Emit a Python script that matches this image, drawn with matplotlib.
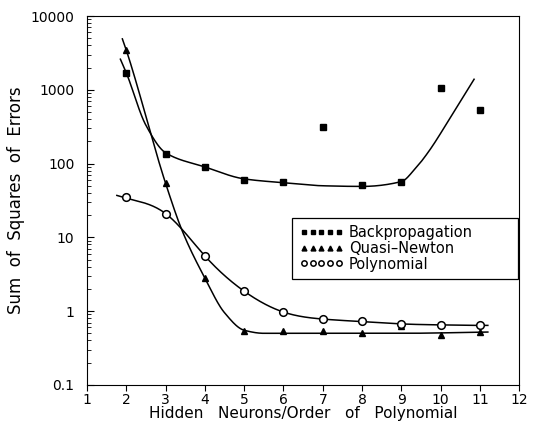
import numpy as np
import matplotlib.pyplot as plt
from matplotlib.ticker import LogLocator, NullFormatter

# data
hidden = [2, 3, 4, 5, 6, 7, 8, 9, 10, 11]
backprop = [1700, 134, 90, 60, 56, 310, 51, 56, 1050, 530]
quasi_newton = [3450, 54, 2.8, 0.53, 0.53, 0.53, 0.5, 0.62, 0.48, 0.52]
polynomial = [35, 21, 5.6, 1.86, 0.97, 0.78, 0.73, 0.66, 0.65, 0.64]

# fitted trend curves (control points)
bp_fit_x = [1.85, 2, 2.5, 3, 4, 5, 6, 7, 8, 9, 9.35, 9.68, 10.27, 10.85]
bp_fit_y = [2600, 1700, 330, 140, 90, 62, 55, 50, 49, 57, 85, 142, 440, 1390]
qn_fit_x = [1.9, 2, 3, 3.43, 4, 4.5, 5, 5.5, 7, 9, 11.2]
qn_fit_y = [4900, 3450, 54, 12, 2.8, 0.95, 0.55, 0.5, 0.5, 0.5, 0.52]
pn_fit_x = [1.76, 2, 3, 4, 5, 6, 7, 8, 9, 10, 11, 11.2]
pn_fit_y = [37, 34, 21, 5.6, 1.86, 0.97, 0.78, 0.72, 0.67, 0.65, 0.64, 0.64]


def hermite(x, y, m, xs):
    h = np.diff(x)
    i = np.clip(np.searchsorted(x, xs) - 1, 0, len(x) - 2)
    t = (xs - x[i]) / h[i]
    h00 = 2 * t**3 - 3 * t**2 + 1
    h10 = t**3 - 2 * t**2 + t
    h01 = -2 * t**3 + 3 * t**2
    h11 = t**3 - t**2
    return h00 * y[i] + h10 * h[i] * m[i] + h01 * y[i + 1] + h11 * h[i] * m[i + 1]


def pchip(x, y, xs):
    x = np.asarray(x, float)
    y = np.asarray(y, float)
    h = np.diff(x)
    d = np.diff(y) / h
    m = np.zeros_like(y)
    m[0], m[-1] = d[0], d[-1]
    for k in range(1, len(x) - 1):
        if d[k - 1] * d[k] > 0:
            w1 = 2 * h[k] + h[k - 1]
            w2 = h[k] + 2 * h[k - 1]
            m[k] = (w1 + w2) / (w1 / d[k - 1] + w2 / d[k])
    return hermite(x, y, m, xs)


def natural(x, y, xs):
    x = np.asarray(x, float)
    y = np.asarray(y, float)
    n = len(x)
    h = np.diff(x)
    A = np.zeros((n, n))
    r = np.zeros(n)
    A[0, 0] = A[-1, -1] = 1
    for k in range(1, n - 1):
        A[k, k - 1] = h[k - 1]
        A[k, k] = 2 * (h[k - 1] + h[k])
        A[k, k + 1] = h[k]
        r[k] = 3 * ((y[k + 1] - y[k]) / h[k] - (y[k] - y[k - 1]) / h[k - 1])
    c = np.linalg.solve(A, r)
    m = np.empty(n)
    m[:-1] = (y[1:] - y[:-1]) / h - h * (2 * c[:-1] + c[1:]) / 3
    m[-1] = m[-2] + h[-1] * (c[-2] + c[-1])
    return hermite(x, y, m, xs)


def smooth(xc, yc, f):
    xs = np.linspace(xc[0], xc[-1], 400)
    return xs, 10 ** f(xc, np.log10(yc), xs)


fig = plt.figure(figsize=(5.37, 4.22), dpi=100)
ax = fig.add_axes([0.162, 0.088, 0.805, 0.874])
ax.set_yscale('log')

for xc, yc, f in [(bp_fit_x, bp_fit_y, pchip), (qn_fit_x, qn_fit_y, pchip),
                  (pn_fit_x, pn_fit_y, natural)]:
    xs, ys = smooth(xc, yc, f)
    ax.plot(xs, ys, color='black', lw=1.1)

ax.plot(hidden, backprop, 's', color='black', ms=5, ls='none', label='Backpropagation')
ax.plot(hidden, quasi_newton, '^', color='black', ms=5, ls='none', label='Quasi\u2013Newton')
ax.plot(hidden, polynomial, 'o', mfc='white', mec='black', mew=1.1, ms=5.5, ls='none',
        label='Polynomial')

ax.set_xlim(1, 12)
ax.set_ylim(0.1, 10000)
ax.set_xticks(range(1, 13))
ax.set_yticks([0.1, 1, 10, 100, 1000, 10000])
ax.set_yticklabels(['0.1', '1', '10', '100', '1000', '10000'])
ax.yaxis.set_minor_locator(LogLocator(base=10, subs=np.arange(2, 10)))
ax.yaxis.set_minor_formatter(NullFormatter())
ax.tick_params(axis='y', which='major', direction='in', length=5, labelsize=10, pad=9)
ax.tick_params(axis='y', which='minor', direction='in', length=3)
ax.tick_params(axis='x', direction='out', length=4, labelsize=10, pad=2)

ax.set_xlabel('Hidden   Neurons/Order   of   Polynomial', fontsize=11, va='top')
ax.xaxis.set_label_coords(0.5, -0.058)
ax.set_ylabel('Sum  of  Squares  of  Errors', fontsize=12, labelpad=4)

leg = ax.legend(loc='upper left', bbox_to_anchor=(0.4745, 0.2876, 0.5232, 0.1653),
                mode='expand', numpoints=5, handlelength=3.0, handletextpad=0.4,
                fontsize=10.5, fancybox=False, edgecolor='black', framealpha=1,
                borderpad=0.5, borderaxespad=0, labelspacing=0.05, markerscale=0.7)
leg.get_frame().set_linewidth(0.9)

fig.savefig('out.png', dpi=100)
